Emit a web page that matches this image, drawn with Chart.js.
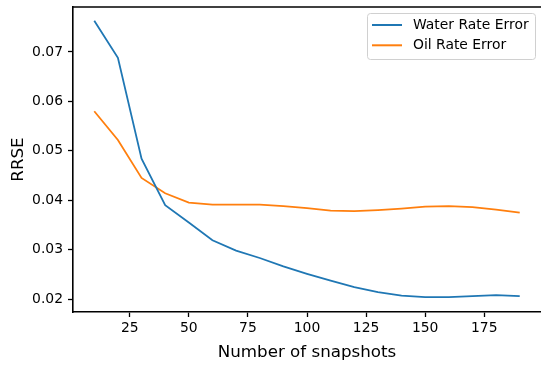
<!DOCTYPE html>
<html>
<head>
<meta charset="utf-8">
<script src="https://cdn.jsdelivr.net/npm/chart.js@4/dist/chart.umd.min.js"></script>
<style>
  body { margin: 0; background: #fff; }
  canvas { display: block; }
</style>
</head>
<body>
<canvas id="chart" width="541" height="365"></canvas>
<script>
// snapshots on x axis
const snapshots = [10, 20, 30, 40, 50, 60, 70, 80, 90, 100, 110, 120, 130, 140, 150, 160, 170, 180, 190];
const waterRateError = [0.0763, 0.0688, 0.0484, 0.0390, 0.0355, 0.0319, 0.0298, 0.0283, 0.0266, 0.0251, 0.0237, 0.0224, 0.0214, 0.0207, 0.0204, 0.0204, 0.0206, 0.0208, 0.0206];
const oilRateError = [0.0580, 0.0522, 0.0445, 0.0414, 0.0395, 0.0391, 0.0391, 0.0391, 0.0388, 0.0384, 0.0379, 0.0378, 0.0380, 0.0383, 0.0387, 0.0388, 0.0386, 0.0381, 0.0375];
const xTicks = [25, 50, 75, 100, 125, 150, 175];
const yTicks = [0.02, 0.03, 0.04, 0.05, 0.06, 0.07];

const FONT = "'DejaVu Sans', sans-serif";
// axes run a little past the right edge of the canvas, as in the original figure
const RIGHT_OVERHANG = -0.6;

// top spine, matplotlib style box (right spine falls off the canvas)
const boxPlugin = {
  id: "box",
  afterDraw(chart) {
    const { ctx, chartArea: a } = chart;
    ctx.save();
    ctx.strokeStyle = "#000";
    ctx.lineWidth = 1.6;
    ctx.beginPath();
    ctx.moveTo(a.left - 0.8, a.top);
    ctx.lineTo(a.right + 2, a.top);
    ctx.stroke();
    ctx.restore();
  },
};

// legend drawn inside the axes, upper right
const innerLegend = {
  id: "innerLegend",
  afterDraw(chart) {
    const { ctx, chartArea: a } = chart;
    const sets = chart.data.datasets;
    const w = 168, h = 46;
    const x = 541 - 6 - w, y = a.top + 6;
    ctx.save();
    ctx.fillStyle = "rgba(255,255,255,0.8)";
    ctx.strokeStyle = "#d0d0d0";
    ctx.lineWidth = 1;
    ctx.beginPath();
    ctx.roundRect(x + 0.5, y + 0.5, w, h, 3);
    ctx.fill();
    ctx.stroke();
    ctx.font = "13.9px " + FONT;
    ctx.textBaseline = "middle";
    sets.forEach((ds, i) => {
      const ly = y + 12 + i * 20.3;
      ctx.strokeStyle = ds.borderColor;
      ctx.lineWidth = 2;
      ctx.beginPath();
      ctx.moveTo(x + 5, ly);
      ctx.lineTo(x + 35, ly);
      ctx.stroke();
      ctx.fillStyle = "#000";
      ctx.fillText(ds.label, x + 46, ly);
    });
    ctx.restore();
  },
};

new Chart(document.getElementById("chart"), {
  type: "line",
  data: {
    datasets: [
      {
        label: "Water Rate Error",
        data: snapshots.map((x, i) => ({ x, y: waterRateError[i] })),
        borderColor: "#1f77b4",
        borderWidth: 1.8,
        pointRadius: 0,
        fill: false,
      },
      {
        label: "Oil Rate Error",
        data: snapshots.map((x, i) => ({ x, y: oilRateError[i] })),
        borderColor: "#ff7f0e",
        borderWidth: 1.8,
        pointRadius: 0,
        fill: false,
      },
    ],
  },
  options: {
    responsive: false,
    animation: false,
    layout: { padding: { top: 7, right: RIGHT_OVERHANG, left: 0, bottom: 0 } },
    plugins: {
      legend: { display: false },
      tooltip: { enabled: false },
    },
    scales: {
      x: {
        type: "linear",
        min: 1,
        max: 199,
        afterBuildTicks: (s) => { s.ticks = xTicks.map((v) => ({ value: v })); },
        afterFit: (s) => { s.height = 53; s.paddingLeft = 0; s.paddingRight = RIGHT_OVERHANG; },
        border: { display: true, color: "#000", width: 1.6 },
        grid: { drawOnChartArea: false, drawTicks: true, tickLength: 5, tickColor: "#000", tickWidth: 1.3 },
        ticks: { color: "#000", padding: 3, maxRotation: 0, font: { family: FONT, size: 13.9 } },
        title: {
          display: true,
          text: "Number of snapshots",
          color: "#000",
          padding: { top: 0, bottom: 2 },
          font: { family: FONT, size: 16.7 },
        },
      },
      y: {
        type: "linear",
        min: 0.01737,
        max: 0.0791,
        afterBuildTicks: (s) => { s.ticks = yTicks.map((v) => ({ value: v })); },
        afterFit: (s) => { s.width = 73; s.paddingTop = 0; s.paddingBottom = 0; s.paddingRight = RIGHT_OVERHANG; },
        border: { display: true, color: "#000", width: 1.6 },
        grid: { drawOnChartArea: false, drawTicks: true, tickLength: 5, tickColor: "#000", tickWidth: 1.3 },
        ticks: {
          color: "#000",
          padding: 5,
          font: { family: FONT, size: 13.9 },
          callback: (v) => v.toFixed(2),
        },
        title: {
          display: true,
          text: "RRSE",
          color: "#000",
          padding: { top: 9, bottom: 0 },
          font: { family: FONT, size: 16.7 },
        },
      },
    },
  },
  plugins: [boxPlugin, innerLegend],
});
</script>
</body>
</html>
